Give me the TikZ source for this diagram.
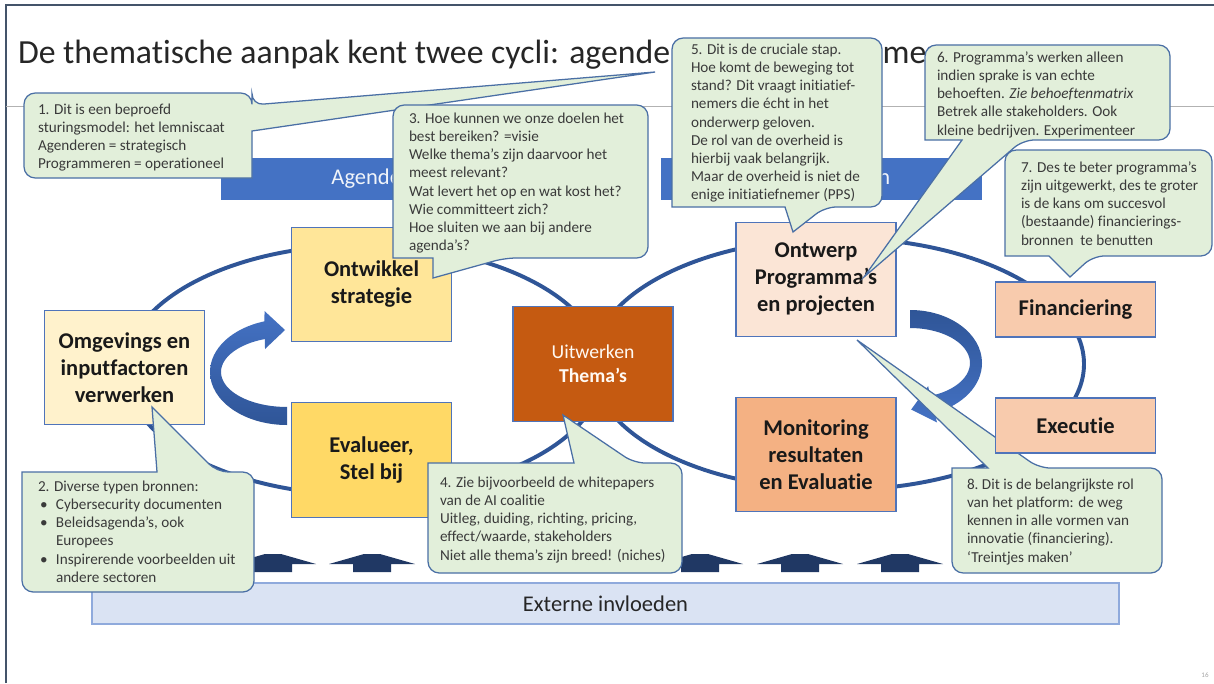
\documentclass[tikz,border=0pt]{standalone}
\usepackage{fontspec}
\setmainfont{Carlito}[Ligatures=NoCommon]
\definecolor{barblue}{HTML}{4472C4}
\definecolor{lemblue}{HTML}{2F5597}
\definecolor{lemlight}{HTML}{4472C4}
\definecolor{boxline}{HTML}{4F74BA}
\definecolor{callfill}{HTML}{E2EFDA}
\definecolor{callline}{HTML}{4A6FA5}
\definecolor{ctextc}{HTML}{3A3A3A}
\definecolor{omgc}{HTML}{FFF2CC}
\definecolor{ontwc}{HTML}{FFE699}
\definecolor{evalc}{HTML}{FFD966}
\definecolor{uitwc}{HTML}{C55A11}
\definecolor{ontwerpc}{HTML}{FBE5D6}
\definecolor{monitc}{HTML}{F4B183}
\definecolor{finc}{HTML}{F8CBAD}
\definecolor{extfill}{HTML}{DAE3F3}
\definecolor{extline}{HTML}{8FAADC}
\definecolor{navyc}{HTML}{203864}
\definecolor{framec}{HTML}{44546A}
\begin{document}
\begin{tikzpicture}[x=0.025cm,y=-0.025cm,
  every node/.style={inner sep=0pt, outer sep=0pt},
  box/.style={draw=boxline, line width=1pt, minimum width=4cm, align=center,
    font=\fontsize{16}{19.2}\selectfont\bfseries, text=black!90},
  bigbox/.style={box, minimum height=2.86cm},
  smallbox/.style={box, minimum height=1.375cm},
  bar/.style={fill=barblue, minimum width=8.025cm, minimum height=1.05cm,
    text=white!92!barblue, font=\fontsize{16}{19}\selectfont},
  callout/.style={fill=callfill, draw=callline, line width=0.9pt},
  ctext/.style={anchor=north west, align=left, text=ctextc, font=\fontsize{10.8}{12.9}\selectfont},
  lem/.style={draw=lemblue, line width=2.8pt},
  uparrow/.style={fill=navyc}
]
\useasboundingbox (0,0) rectangle (1214,683);
\fill[white] (0,0) rectangle (1214,683);
% slide frame
\draw[framec, line width=1.4pt] (6,683) -- (6,5) -- (1214,5);
\draw[black!30, line width=0.6pt] (6,106) -- (1214,106);
% title
\node[anchor=base west, font=\fontsize{24}{28}\selectfont, text=black!85] (title) at (18,64)
  {De thematische aanpak kent twee cycli: agenderen en programmeren};
% bars
\node[bar] (barA) at (381.5,179) {Agenderen};
\node[bar] (barP) at (821.5,179) {Programmeren};
% lemniscate
\draw[lem] (364,370) ellipse [x radius=239, y radius=125];
\draw[lem] (838,364) ellipse [x radius=246, y radius=126];
% circular arrows
\shade[top color=lemlight, bottom color=lemblue]
  (287,407) -- (287,425) arc[start angle=90, end angle=253, x radius=77, y radius=53]
  -- (264.5,311) -- (285,330) -- (265,349) -- (264.97,339.0)
  arc[start angle=250.5, end angle=90, x radius=66, y radius=35] -- cycle;
\shade[top color=lemblue, bottom color=lemlight]
  (910,328) -- (910,310) arc[start angle=270, end angle=430, x radius=72, y radius=53]
  -- (937,422.5) -- (911.2,409.5) -- (928.1,386.2) -- (930.5,395.9)
  arc[start angle=430, end angle=270, x radius=60, y radius=35] -- cycle;
% boxes
\node[bigbox, fill=omgc] (omg) at (124.5,367.5) {Omgevings en\\inputfactoren\\verwerken};
\node[bigbox, fill=ontwc] (ontw) at (371.5,284.5) {Ontwikkel\\strategie};
\node[bigbox, fill=evalc] (eval) at (371.5,460) {Evalueer,\\Stel bij};
\node[bigbox, fill=uitwc, text=white!95!orange, font=\fontsize{14}{17}\selectfont] (uitw) at (593,364)
  {Uitwerken\\\textbf{Thema’s}};
\node[bigbox, fill=ontwerpc] (ontwerp) at (816,279.5) {Ontwerp\\Programma’s\\en projecten};
\node[bigbox, fill=monitc] (monit) at (816,454.5) {Monitoring\\resultaten\\en Evaluatie};
\node[smallbox, fill=finc] (fin) at (1075.5,309.5) {Financiering};
% external influences
\foreach \cx in {273,372,700,800,900}
  \fill[uparrow] (\cx-43,564) -- (\cx-8,554) -- (\cx+8,554) -- (\cx+43,564) -- (\cx+19,564)
    -- (\cx+19,572) -- (\cx-19,572) -- (\cx-19,564) -- cycle;
\node[fill=extfill, draw=extline, line width=1pt, minimum width=25.675cm, minimum height=1.025cm,
  font=\fontsize{16}{19}\selectfont, text=black!85] (ext) at (605.5,603.5) {Externe invloeden};
% callout 1
\draw[callout] (252,131) -- (252,178) [rounded corners=8pt] -- (24,178) -- (24,93) -- (252,93)
  -- (252,105) [sharp corners] -- (655,72) -- cycle;
\node[ctext] (c1) at (38,103.25) {\rule{0pt}{8pt}1. Dit is een beproefd\\sturingsmodel: het lemniscaat\\
  Agenderen = strategisch\\Programmeren = operationeel};
% callout 3
\draw[callout] (433,258) -- (393,258) [rounded corners=8pt] -- (393,105) -- (648,105) -- (648,258)
  -- (505,258) [sharp corners] -- (433,278) -- cycle;
\node[ctext] (c3) at (409,112.25) {\rule{0pt}{8pt}3. Hoe kunnen we onze doelen het\\best bereiken? =visie\\
  Welke thema’s zijn daarvoor het\\meest relevant?\\Wat levert het op en wat kost het?\\
  Wie committeert zich?\\Hoe sluiten we aan bij andere\\agenda’s?};
% callout 2
\draw[callout] (157,472) -- (22,472) [rounded corners=8pt] -- (22,592) -- (254,592) -- (254,472)
  -- (217,472) [sharp corners] -- (152,407) -- cycle;
\node[ctext] (c2) at (38,480.25) {\rule{0pt}{8pt}2. Diverse typen bronnen:\\
  \hspace*{1.5pt}\makebox[11.3pt][l]{\textbullet}Cybersecurity documenten\\
  \hspace*{1.5pt}\makebox[11.3pt][l]{\textbullet}Beleidsagenda’s, ook\\
  \hspace*{12.8pt}Europees\\
  \hspace*{1.5pt}\makebox[11.3pt][l]{\textbullet}Inspirerende voorbeelden uit\\
  \hspace*{12.8pt}andere sectoren};
% callout 4
\draw[callout] (574,463) -- (428,463) [rounded corners=8pt] -- (428,573) -- (682,573) -- (682,463)
  -- (634,463) [sharp corners] -- (563,415) -- cycle;
\node[ctext] (c4) at (440,476.25) {\rule{0pt}{8pt}4. Zie bijvoorbeeld de whitepapers\\van de AI coalitie\\
  Uitleg, duiding, richting, pricing,\\effect/waarde, stakeholders\\Niet alle thema’s zijn breed! (niches)};
% callout 5
\draw[callout] (785,207) -- (672,207) [rounded corners=8pt] -- (672,38) -- (882,38) -- (882,207)
  -- (825,207) [sharp corners] -- (793,232) -- cycle;
\node[ctext] (c5) at (691,43.25) {\rule{0pt}{8pt}5. Dit is de cruciale stap.\\Hoe komt de beweging tot\\
  stand? Dit vraagt initiatief-\\nemers die écht in het\\onderwerp geloven.\\De rol van de overheid is\\
  hierbij vaak belangrijk.\\Maar de overheid is niet de\\enige initiatiefnemer (PPS)};
% callout 6
\draw[callout] (962,140) -- (925,140) [rounded corners=8pt] -- (925,45) -- (1170,45) -- (1170,140)
  -- (1023,140) [sharp corners] -- (864,277) -- cycle;
\node[ctext] (c6) at (937,51.25) {\rule{0pt}{8pt}6. Programma’s werken alleen\\indien sprake is van echte\\
  behoeften. \textit{Zie behoeftenmatrix}\\Betrek alle stakeholders. Ook\\kleine bedrijven. Experimenteer};
% callout 7
\draw[callout] (1049,256) -- (1005,256) [rounded corners=8pt] -- (1005,150) -- (1212,150) -- (1212,256)
  -- (1093,256) [sharp corners] -- (1070,277) -- cycle;
\node[ctext] (c7) at (1021,161.25) {\rule{0pt}{8pt}7. Des te beter programma’s\\zijn uitgewerkt, des te groter\\
  is de kans om succesvol\\(bestaande) financierings-\\bronnen\ \ te benutten};
% callout 8
\draw[callout] (988,468) -- (952,468) [rounded corners=8pt] -- (952,573) -- (1162,573) -- (1162,468)
  -- (1039,468) [sharp corners] -- (857,340) -- cycle;
\node[ctext] (c8) at (967,478.25) {\rule{0pt}{8pt}8.\ Dit is de belangrijkste rol\\van het platform: de weg\\
  kennen in alle vormen van\\innovatie (financiering).\\‘Treintjes maken’};
% executie on top of callout 8 tail
\node[smallbox, fill=finc] (exec) at (1075.5,425.5) {Executie};
% slide number
\node[font=\fontsize{5}{6}\selectfont, text=black!35] (pnum) at (1205,675) {16};
\end{tikzpicture}
\end{document}
